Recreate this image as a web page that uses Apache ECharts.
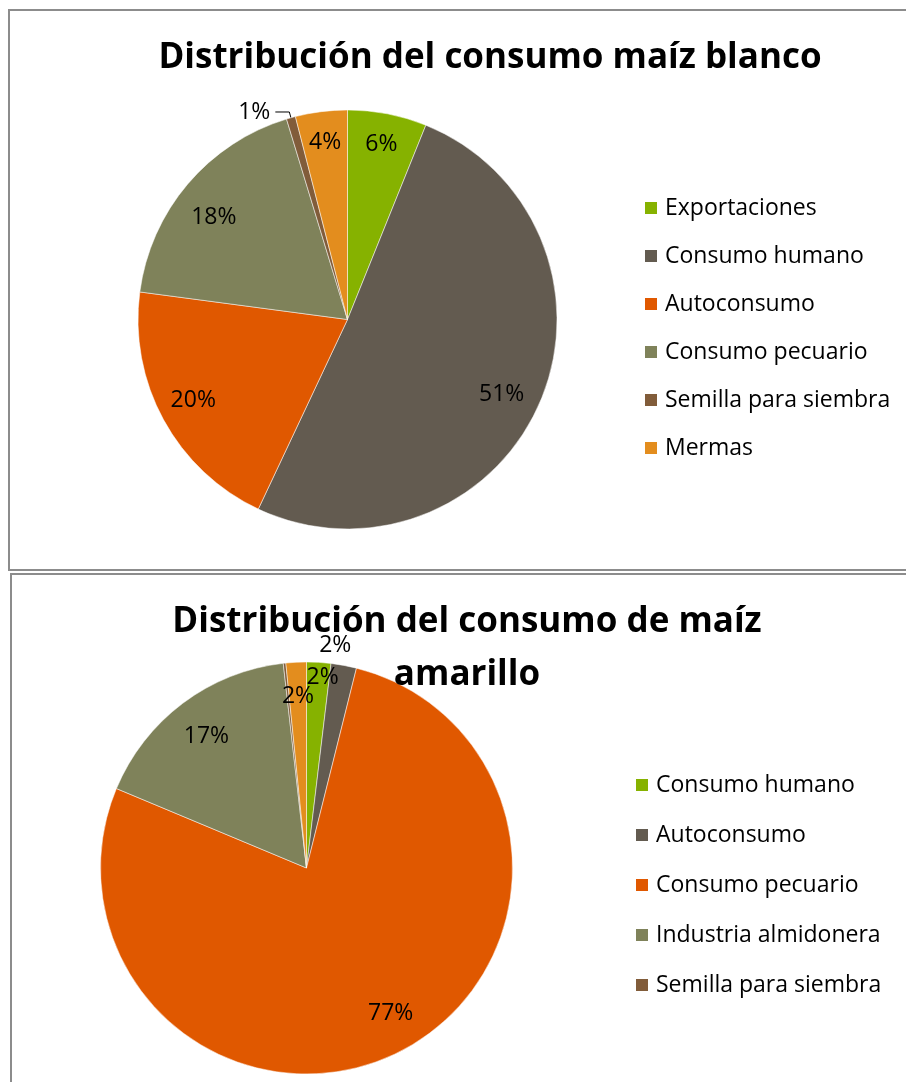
<!DOCTYPE html>
<html lang="es">
<head>
    <meta charset="UTF-8">
    <title>Distribución del consumo de maíz</title>
    <style>
        html, body {
            margin: 0;
            padding: 0;
            background: #fff;
            overflow: hidden;
        }
        .panel {
            position: absolute;
            border: 2px solid #8c8c8c;
            background: #fff;
        }
        #top {
            left: 8px;
            top: 9px;
            width: 960px;
            height: 558px;
        }
        #bottom {
            left: 10px;
            top: 573px;
            width: 910px;
            height: 520px;
            border-bottom: none;
        }
    </style>
</head>
<body>
<div class="panel" id="top"></div>
<div class="panel" id="bottom"></div>
<script src="https://cdn.jsdelivr.net/npm/echarts@6/dist/echarts.min.js"></script>
<script>
    // maíz blanco (%)
    var blancoNames = ['Exportaciones', 'Consumo humano', 'Autoconsumo', 'Consumo pecuario', 'Semilla para siembra', 'Mermas'];
    var blancoValues = [6.1, 50.9, 20.1, 18.2, 0.7, 4.0];

    // maíz amarillo (%) - la leyenda original solo muestra las 5 primeras
    var amarilloNames = ['Consumo humano', 'Autoconsumo', 'Consumo pecuario', 'Industria almidonera', 'Semilla para siembra', 'Mermas'];
    var amarilloValues = [1.9, 2.0, 77.4, 16.9, 0.2, 1.6];
    var amarilloLegend = amarilloNames.slice(0, 5);

    var colors = ['#86B200', '#635B50', '#E05800', '#7F825A', '#815C3A', '#E38D1E'];
    var font = "'Open Sans', 'Noto Sans', sans-serif";

    function buildOption(cfg) {
        // pie that is drawn; only the "outside" label is shown here
        var slices = cfg.values.map(function (v, i) {
            var item = {name: cfg.names[i], value: v};
            if (cfg.outside === i) {
                item.label = {show: true};
                item.labelLine = {show: true};
            }
            return item;
        });
        // transparent ring on top, only used to place the inner labels further out
        var ring = cfg.values.map(function (v, i) {
            var item = {name: cfg.names[i], value: v};
            if (cfg.hidden.indexOf(i) >= 0) {
                item.label = {show: false};
            }
            return item;
        });
        return {
            animation: false,
            color: colors,
            title: {
                text: cfg.title,
                left: 'center',
                top: cfg.titleTop,
                padding: 0,
                textStyle: {
                    fontFamily: font,
                    fontWeight: 'bold',
                    fontSize: 35,
                    lineHeight: 53,
                    color: '#000'
                }
            },
            legend: {
                orient: 'vertical',
                left: cfg.legendLeft,
                top: cfg.legendTop,
                padding: 0,
                data: cfg.legend,
                icon: 'rect',
                itemWidth: 14,
                itemHeight: 14,
                itemGap: cfg.legendGap,
                selectedMode: false,
                textStyle: {
                    fontFamily: font,
                    fontSize: 23,
                    lineHeight: 24,
                    color: '#000',
                    padding: [0, 0, 0, 2]
                }
            },
            series: [
                {
                    type: 'pie',
                    center: cfg.center,
                    radius: [0, cfg.r],
                    percentPrecision: 0,
                    silent: true,
                    itemStyle: {borderColor: '#fff', borderWidth: 0.5},
                    label: {
                        show: false,
                        position: 'outside',
                        formatter: '{d}%',
                        fontFamily: font,
                        fontSize: 23,
                        color: '#000'
                    },
                    labelLine: {
                        show: false,
                        length: 6,
                        length2: 14,
                        smooth: false,
                        lineStyle: {color: '#000', width: 1}
                    },
                    data: slices
                },
                {
                    type: 'pie',
                    center: cfg.center,
                    radius: [cfg.r - cfg.ring, cfg.r],
                    percentPrecision: 0,
                    silent: true,
                    itemStyle: {color: 'rgba(0,0,0,0)'},
                    label: {
                        show: true,
                        position: 'inside',
                        formatter: '{d}%',
                        fontFamily: font,
                        fontSize: 23,
                        color: '#000'
                    },
                    labelLine: {show: false},
                    labelLayout: function (p) {
                        var o = cfg.shift[p.dataIndex];
                        return o ? {dx: o[0], dy: o[1]} : {};
                    },
                    data: ring
                }
            ]
        };
    }

    var topChart = echarts.init(document.getElementById('top'));
    topChart.setOption(buildOption({
        title: 'Distribución del consumo maíz blanco',
        titleTop: 21,
        names: blancoNames,
        values: blancoValues,
        legend: blancoNames,
        legendLeft: 633,
        legendTop: 185,
        legendGap: 24,
        center: [337.5, 308.5],
        r: 209.5,
        ring: 69,
        outside: 4,
        hidden: [4],
        shift: {1: [-9, 4], 2: [2, -4], 3: [2, 13]}
    }));

    var bottomChart = echarts.init(document.getElementById('bottom'));
    bottomChart.setOption(buildOption({
        title: 'Distribución del consumo de maíz\namarillo',
        titleTop: 21,
        names: amarilloNames,
        values: amarilloValues,
        legend: amarilloLegend,
        legendLeft: 622,
        legendTop: 198,
        legendGap: 26,
        center: [294.5, 293],
        r: 206,
        ring: 78,
        outside: -1,
        hidden: [4],
        shift: {0: [6, -21], 1: [-2, -55], 2: [8, -6], 3: [2, 4], 5: [0, -2]}
    }));
</script>
</body>
</html>
